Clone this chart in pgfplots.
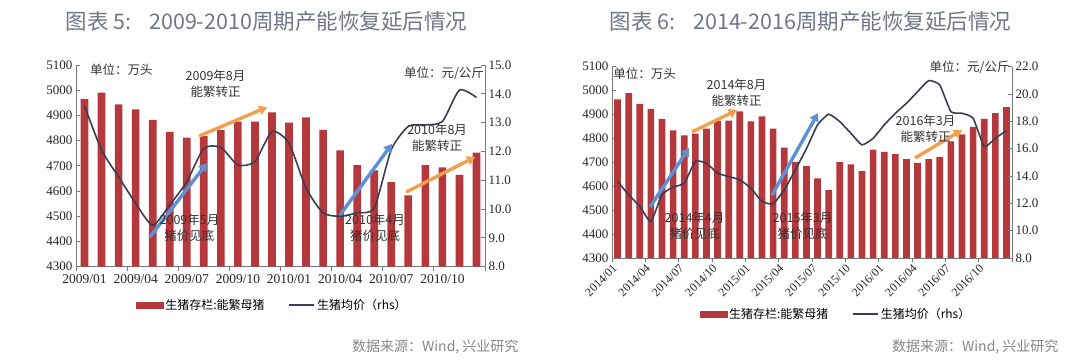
\documentclass[border=0pt]{standalone}
\usepackage{pgfplots}
\pgfplotsset{compat=1.18}
\usepackage{fontspec}
\setmainfont{Liberation Serif}
\newfontfamily\cjk{Noto Sans CJK SC}
\usetikzlibrary{arrows.meta}
\definecolor{barred}{RGB}{181,56,60}
\definecolor{linecol}{RGB}{58,62,82}
\definecolor{arrorange}{RGB}{242,160,80}
\definecolor{arrblue}{RGB}{92,145,214}
\definecolor{titlegray}{RGB}{112,118,134}
\definecolor{srcgray}{RGB}{135,135,135}
\definecolor{axgray}{RGB}{120,120,120}

\pgfplotsset{
  base/.style={scale only axis, anchor=south west, clip=false,
    tick label style={font=\fontsize{13}{15}\selectfont, text=black!85},
    /pgf/number format/assume math mode=true,
    /pgf/number format/1000 sep={},
    axis line style={axgray, line width=0.8pt},
    every tick/.style={axgray, line width=0.8pt},
    major tick length=4pt, minor tick length=4pt},
  lgd/.style={legend columns=2,
    legend style={draw=none, fill=none, font=\cjk\fontsize{12}{14}\selectfont,
      /tikz/every even column/.append style={column sep=22pt}}},
}
\tikzset{
  anno/.style={font=\cjk\fontsize{12.5}{16}\selectfont, align=center, text=black!80, inner sep=0pt},
  oarr/.style={arrorange, line width=3.4pt, -{Triangle[length=8pt,width=9.5pt]}},
  barr/.style={arrblue, line width=3.4pt, -{Triangle[length=8pt,width=9.5pt]}},
}

\pgfplotstableread{
p v
0 4965
1 4990
2 4944
3 4924
4 4882
5 4835
6 4812
7 4818
8 4842
9 4875
10 4875
11 4912
12 4871
13 4892
14 4843
15 4761
16 4703
17 4682
18 4635
19 4583
20 4703
21 4694
22 4664
23 4752
}\barsA

\pgfplotstableread{
p v
0 13.58
1 12.05
2 11.12
3 10.20
4 9.44
5 10.14
6 10.95
7 12.10
8 12.14
9 11.53
10 11.65
11 12.69
12 12.28
13 10.73
14 9.87
15 9.75
16 9.87
17 10.04
18 12.06
19 12.87
20 12.92
21 13.04
22 14.13
23 13.87
}\lineA

\pgfplotstableread{
p v
0 4963
1 4989
2 4945
3 4924
4 4882
5 4834
6 4813
7 4820
8 4841
9 4873
10 4875
11 4913
12 4871
13 4892
14 4841
15 4762
16 4702
17 4684
18 4633
19 4584
20 4702
21 4692
22 4663
23 4753
24 4744
25 4734
26 4713
27 4698
28 4713
29 4723
30 4788
31 4817
32 4848
33 4882
34 4906
35 4931
}\barsB

\pgfplotstableread{
p v
0 13.60
1 12.63
2 11.77
3 10.68
4 12.63
5 13.19
6 13.48
7 15.06
8 14.94
9 14.21
10 13.96
11 13.72
12 13.11
13 12.14
14 11.97
15 12.99
16 14.45
17 16.00
18 17.74
19 18.52
20 17.98
21 17.13
22 16.28
23 16.76
24 17.74
25 18.59
26 19.32
27 20.17
28 20.98
29 20.66
30 18.71
31 18.59
32 18.23
33 16.16
34 16.76
35 17.32
}\lineB

\begin{document}
\begin{tikzpicture}
\useasboundingbox (0pt,0pt) rectangle (1080pt,364pt);

% ---------- Titles ----------
\node[anchor=west, font=\cjk\fontsize{21.5}{24}\selectfont, text=titlegray] at (62pt,343pt) {图表 5:\hspace{18pt}2009-2010周期产能恢复延后情况};
\node[anchor=west, font=\cjk\fontsize{21.5}{24}\selectfont, text=titlegray] at (606pt,343pt) {图表 6:\hspace{18pt}2014-2016周期产能恢复延后情况};

% ---------- Left panel ----------
\begin{axis}[base, at={(76pt,97.3pt)}, width=409pt, height=201.7pt,
  xmin=-0.5, xmax=23.5, ymin=4300, ymax=5100, ytick={4300,4400,...,5100},
  axis y line*=left, axis x line*=bottom,
  ybar, bar width=0.45,
  xtick={0,3,...,21},
  xticklabels={2009/01,2009/04,2009/07,2009/10,2010/01,2010/04,2010/07,2010/10},
  major x tick style={draw=none},
  minor xtick={-0.5,2.5,...,23.5},
  xtick align=outside, ytick align=inside,
  xticklabel style={font=\fontsize{13.5}{15}\selectfont},
]
\addplot[fill=barred, draw=none] table[x=p,y=v] {\barsA};
\coordinate (A1s) at (axis cs:3.84,4418);
\coordinate (A1e) at (axis cs:7.19,4711);
\coordinate (A2s) at (axis cs:6.72,4818);
\coordinate (A2e) at (axis cs:10.71,4933);
\coordinate (A3s) at (axis cs:14.99,4505);
\coordinate (A3e) at (axis cs:18.04,4787);
\coordinate (A4s) at (axis cs:18.87,4596);
\coordinate (A4e) at (axis cs:22.92,4735);
\coordinate (T1) at (axis cs:0.32,5080);
\coordinate (T2) at (axis cs:7.69,5027);
\coordinate (T3) at (axis cs:6.16,4455);
\coordinate (T4) at (axis cs:23.45,5068);
\coordinate (T5) at (axis cs:20.69,4812);
\coordinate (T6) at (axis cs:17.05,4455);
\end{axis}
\begin{axis}[base, lgd, at={(76pt,97.3pt)}, width=409pt, height=201.7pt,
  xmin=-0.5, xmax=23.5, ymin=8, ymax=15, ytick={8,9,...,15},
  axis y line*=right, axis x line=none, ytick align=inside,
  yticklabel style={/pgf/number format/.cd, fixed, fixed zerofill, precision=1},
  legend style={at={(0.48,-0.19)}, anchor=center},
]
\addlegendimage{legend image code/.code={\fill[barred] (0pt,-3pt) rectangle (27pt,3pt);}}
\addlegendentry{生猪存栏:能繁母猪}
\addplot[linecol, line width=1.6pt, smooth, tension=0.4,
  legend image code/.code={\draw[linecol, line width=1.4pt] (0pt,0pt) -- (25pt,0pt);}]
  table[x=p,y=v] {\lineA};
\addlegendentry{生猪均价（rhs）}
\end{axis}
\draw[barr] (A1s) -- (A1e);
\draw[oarr] (A2s) -- (A2e);
\draw[barr] (A3s) -- (A3e);
\draw[oarr] (A4s) -- (A4e);
\node[anno, anchor=west] at (T1) {单位：万头};
\node[anno] at (T2) {2009年8月\\能繁转正};
\node[anno] at (T3) {2009年5月\\猪价见底};
\node[anno, anchor=east] at (T4) {单位：元/公斤};
\node[anno] at (T5) {2010年8月\\能繁转正};
\node[anno] at (T6) {2010年4月\\猪价见底};

% ---------- Right panel ----------
\begin{axis}[base, at={(612pt,106pt)}, width=400pt, height=191.3pt,
  xmin=-0.5, xmax=35.5, ymin=4300, ymax=5100, ytick={4300,4400,...,5100},
  axis y line*=left, axis x line*=bottom,
  ybar, bar width=0.6,
  xtick={-0.5,2.5,...,35.5},
  xticklabels={2014/01,2014/04,2014/07,2014/10,2015/01,2015/04,2015/07,2015/10,2016/01,2016/04,2016/07,2016/10,{}},
  xtick align=outside, ytick align=inside,
  xticklabel style={rotate=45, anchor=north east, inner sep=1pt, font=\fontsize{12}{14}\selectfont},
]
\addplot[fill=barred, draw=none] table[x=p,y=v] {\barsB};
\coordinate (B1s) at (axis cs:2.92,4513);
\coordinate (B1e) at (axis cs:6.43,4760);
\coordinate (B2s) at (axis cs:6.70,4827);
\coordinate (B2e) at (axis cs:10.75,4919);
\coordinate (B3s) at (axis cs:13.9,4563);
\coordinate (B3e) at (axis cs:18.04,4906);
\coordinate (B4s) at (axis cs:26.77,4718);
\coordinate (B4e) at (axis cs:31.0,4835);
\coordinate (U1) at (axis cs:-0.4,5070);
\coordinate (U2) at (axis cs:10.71,4992);
\coordinate (U3) at (axis cs:6.93,4434);
\coordinate (U4) at (axis cs:35.3,5099);
\coordinate (U5) at (axis cs:16.65,4434);
\coordinate (U6) at (axis cs:27.72,4839);
\end{axis}
\begin{axis}[base, lgd, at={(612pt,106pt)}, width=400pt, height=191.3pt,
  xmin=-0.5, xmax=35.5, ymin=8, ymax=22, ytick={8,10,...,22},
  axis y line*=right, axis x line=none, ytick align=inside,
  yticklabel style={/pgf/number format/.cd, fixed, fixed zerofill, precision=1},
  legend style={at={(0.56,-0.293)}, anchor=center},
]
\addlegendimage{legend image code/.code={\fill[barred] (0pt,-3pt) rectangle (27pt,3pt);}}
\addlegendentry{生猪存栏:能繁母猪}
\addplot[linecol, line width=1.6pt, smooth, tension=0.3,
  legend image code/.code={\draw[linecol, line width=1.4pt] (0pt,0pt) -- (25pt,0pt);}]
  table[x=p,y=v] {\lineB};
\addlegendentry{生猪均价（rhs）}
\end{axis}
\draw[barr] (B1s) -- (B1e);
\draw[oarr] (B2s) -- (B2e);
\draw[barr] (B3s) -- (B3e);
\draw[oarr] (B4s) -- (B4e);
\node[anno, anchor=west] at (U1) {单位：万头};
\node[anno] at (U2) {2014年8月\\能繁转正};
\node[anno] at (U3) {2014年4月\\猪价见底};
\node[anno, anchor=east] at (U4) {单位：元/公斤};
\node[anno] at (U5) {2015年3月\\猪价见底};
\node[anno] at (U6) {2016年3月\\能繁转正};

% ---------- Sources ----------
\node[anchor=east, font=\cjk\fontsize{14}{16}\selectfont, text=srcgray] at (522pt,17pt) {数据来源：Wind, 兴业研究};
\node[anchor=east, font=\cjk\fontsize{14}{16}\selectfont, text=srcgray] at (1062pt,17pt) {数据来源：Wind, 兴业研究};
\end{tikzpicture}
\end{document}
